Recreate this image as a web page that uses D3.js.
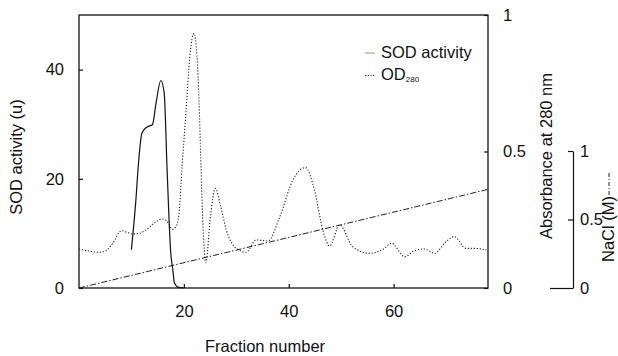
<!DOCTYPE html>
<html>
<head>
<meta charset="utf-8">
<script src="https://cdn.jsdelivr.net/npm/d3@7"></script>
<style>
  body { margin: 0; background: #fff; }
  text { font-family: "Liberation Sans", Arial, Helvetica, sans-serif; fill: #111; }
</style>
</head>
<body>
<div id="chart"></div>
<script>
// SOD activity (u) per fraction
var sodFractions = [10, 10.8, 11.4, 12, 13, 14, 14.7, 15.6, 16.25, 16.8, 17.5, 17.9, 18.2, 19, 20];
var sodValues    = [7.0, 15.5, 23.5, 28.4, 29.5, 29.9, 33.9, 38.0, 35.7, 21.7, 6.4, 3.3, 0.9, 0.1, 0];

// OD280 absorbance per fraction
var odFractions = [0, 2, 3.8, 5, 6.3, 8.1, 9, 10.1, 11.5, 12.7, 14.5, 15.9, 17, 17.8, 18.5, 19.05, 19.7, 20.3, 21.2, 21.9, 22.5, 22.9, 23.2, 23.6, 24.2, 25, 26, 27, 28.1, 30, 31.9, 33.8, 36, 38.3, 40.8, 43.2, 44.9, 46.5, 47.8, 49.7, 52.2, 55.4, 58, 59.6, 62.1, 64, 65.9, 67.8, 70, 71.6, 73.8, 75.7, 77.7];
var odValues    = [0.142, 0.135, 0.131, 0.135, 0.16, 0.21, 0.205, 0.198, 0.2, 0.212, 0.24, 0.253, 0.24, 0.215, 0.225, 0.27, 0.458, 0.615, 0.86, 0.933, 0.85, 0.677, 0.49, 0.25, 0.093, 0.25, 0.365, 0.3, 0.212, 0.145, 0.131, 0.176, 0.172, 0.261, 0.396, 0.441, 0.359, 0.212, 0.154, 0.231, 0.151, 0.127, 0.142, 0.164, 0.115, 0.137, 0.143, 0.127, 0.17, 0.188, 0.145, 0.145, 0.139];

// NaCl gradient (M)
var naclFractions = [0, 78];
var naclValues    = [0, 0.72];

// tick labels
var xTicks = [20, 40, 60];
var sodTicks = [0, 20, 40];
var absTicks = [0, 0.5, 1];
var naclTicks = [0, 0.5, 1];

var W = 618, H = 356;
var plot = {left: 79, right: 488, top: 15, bottom: 288};

var svg = d3.select("#chart").append("svg")
    .attr("width", W)
    .attr("height", H);

var x = d3.scaleLinear().domain([0, 78]).range([plot.left, plot.right]);
var ySod = d3.scaleLinear().domain([0, 50]).range([plot.bottom, plot.top]);
var yAbs = d3.scaleLinear().domain([0, 1]).range([plot.bottom, plot.top]);
var yNacl = d3.scaleLinear().domain([0, 1]).range([plot.bottom, 151]);

var fs = "16.5px";

// axes (inward ticks)
var gLeft = svg.append("g")
    .attr("transform", "translate(" + plot.left + ",0)")
    .call(d3.axisLeft(ySod).tickValues(sodTicks).tickSize(-4).tickPadding(15));
var gBottom = svg.append("g")
    .attr("transform", "translate(0," + plot.bottom + ")")
    .call(d3.axisBottom(x).tickValues(xTicks).tickSize(-4).tickPadding(17));
var gRight = svg.append("g")
    .attr("transform", "translate(" + plot.right + ",0)")
    .call(d3.axisRight(yAbs).tickValues(absTicks).tickFormat(d3.format("")).tickSize(-4).tickPadding(15));

[gLeft, gBottom, gRight].forEach(function(g) {
  g.select(".domain").remove();
  g.selectAll("line").attr("stroke", "#111").attr("stroke-width", 1.2);
  g.selectAll("text").attr("font-size", fs).attr("fill", "#111");
});

// NaCl axis
var gNacl = svg.append("g")
    .attr("transform", "translate(573,0)")
    .call(d3.axisRight(yNacl).tickValues(naclTicks).tickFormat(d3.format("")).tickSizeInner(-5).tickSizeOuter(0).tickPadding(7));
gNacl.select(".domain").attr("stroke", "#111").attr("stroke-width", 1.2);
gNacl.selectAll("line").attr("stroke", "#111").attr("stroke-width", 1.2);
gNacl.selectAll(".tick").filter(function(d) { return d === 0; }).select("line").attr("x2", -23);
gNacl.selectAll("text").attr("font-size", fs).attr("fill", "#111");

// frame
svg.append("rect")
    .attr("x", plot.left)
    .attr("y", plot.top)
    .attr("width", plot.right - plot.left)
    .attr("height", plot.bottom - plot.top)
    .attr("fill", "none")
    .attr("stroke", "#111")
    .attr("stroke-width", 1.3);

// NaCl line
svg.append("path")
    .datum(d3.zip(naclFractions, naclValues))
    .attr("d", d3.line().x(function(d) { return x(d[0]); }).y(function(d) { return yNacl(d[1]); }))
    .attr("fill", "none")
    .attr("stroke", "#222")
    .attr("stroke-width", 1)
    .attr("stroke-dasharray", "6,2,1.5,2");

// OD280 curve
svg.append("path")
    .datum(d3.zip(odFractions, odValues))
    .attr("d", d3.line().curve(d3.curveMonotoneX).x(function(d) { return x(d[0]); }).y(function(d) { return yAbs(d[1]); }))
    .attr("fill", "none")
    .attr("stroke", "#222")
    .attr("stroke-width", 1.1)
    .attr("stroke-dasharray", "1.2,1.8");

// SOD curve
svg.append("path")
    .datum(d3.zip(sodFractions, sodValues))
    .attr("d", d3.line().curve(d3.curveMonotoneX).x(function(d) { return x(d[0]); }).y(function(d) { return ySod(d[1]); }))
    .attr("fill", "none")
    .attr("stroke", "#111")
    .attr("stroke-width", 1.2);

// axis titles
svg.append("text")
    .attr("x", 265)
    .attr("y", 352)
    .attr("text-anchor", "middle")
    .attr("font-size", fs)
    .text("Fraction number");

svg.append("text")
    .attr("transform", "translate(22,157)rotate(-90)")
    .attr("text-anchor", "middle")
    .attr("font-size", fs)
    .text("SOD activity (u)");

svg.append("text")
    .attr("transform", "translate(552,156)rotate(-90)")
    .attr("text-anchor", "middle")
    .attr("font-size", fs)
    .text("Absorbance at 280 nm");

var naclLabel = svg.append("text")
    .attr("transform", "translate(614,262)rotate(-90)")
    .attr("text-anchor", "start")
    .attr("font-size", fs)
    .text("NaCl (M)");
var nlw = naclLabel.node().getComputedTextLength();
svg.append("line")
    .attr("x1", 609).attr("x2", 609)
    .attr("y1", 262 - nlw - 1).attr("y2", 262 - nlw - 24)
    .attr("stroke", "#222")
    .attr("stroke-width", 1)
    .attr("stroke-dasharray", "4,2,1,2");

// legend
var legend = svg.append("g");
legend.append("line")
    .attr("x1", 365).attr("x2", 375).attr("y1", 53).attr("y2", 53)
    .attr("stroke", "#999").attr("stroke-width", 1);
legend.append("text")
    .attr("x", 381).attr("y", 58)
    .attr("font-size", fs)
    .text("SOD activity");
legend.append("line")
    .attr("x1", 365).attr("x2", 375).attr("y1", 75.5).attr("y2", 75.5)
    .attr("stroke", "#333").attr("stroke-width", 1).attr("stroke-dasharray", "1.2,1.5");
var odText = legend.append("text")
    .attr("x", 381).attr("y", 80)
    .attr("font-size", fs)
    .text("OD");
odText.append("tspan")
    .attr("font-size", "8px")
    .attr("dy", 1.5)
    .text("280");
</script>
</body>
</html>
